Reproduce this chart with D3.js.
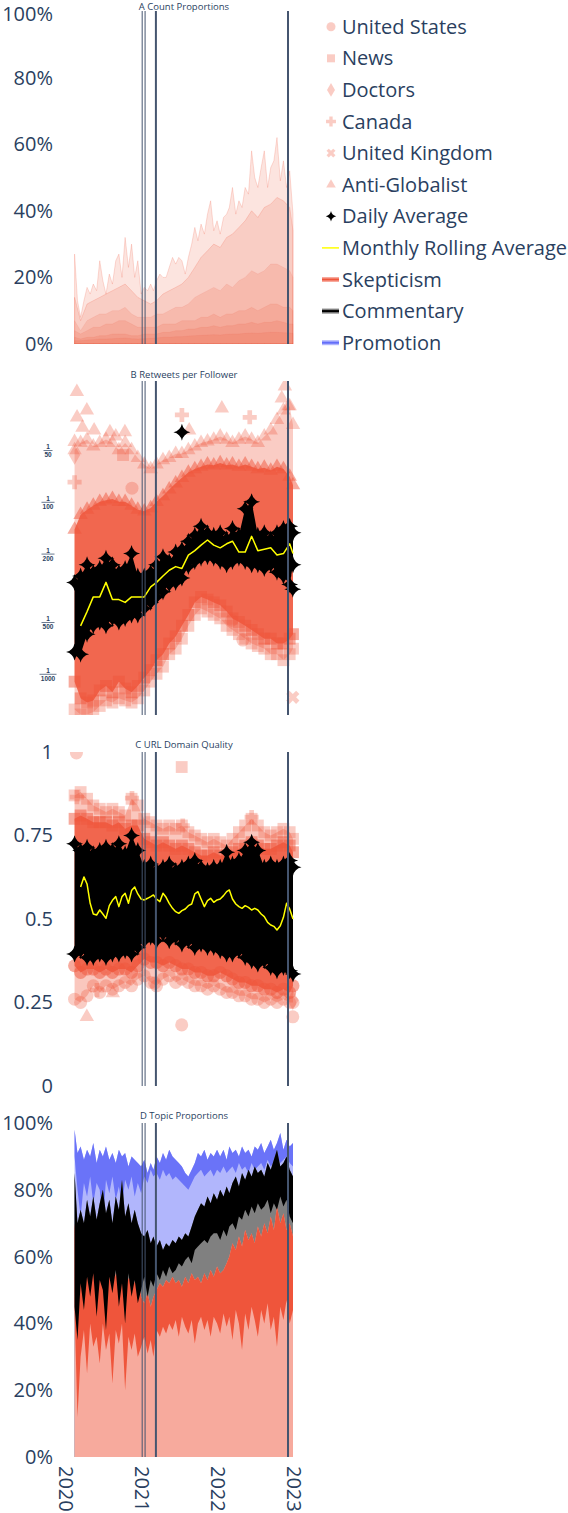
<!DOCTYPE html>
<html>
<head>
<meta charset="utf-8">
<script src="https://cdn.jsdelivr.net/npm/d3@7/dist/d3.min.js"></script>
<style>
  body { margin: 0; background: #fff; }
  #viz svg { display: block; }
</style>
</head>
<body>
<div id="viz"></div>
<script>
var FONT = '"Open Sans", "DejaVu Sans", sans-serif';
var INK = '#2a3f5f';

// time grids: half-month steps from mid Feb 2020 to 1 Jan 2023, and the monthly subset
var semiDates = d3.range(70).map(function(i) {
  return i % 2 === 0 ? new Date(2020, 1 + i / 2, 16) : new Date(2020, 2 + (i - 1) / 2, 1);
});
var monthDates = semiDates.filter(function(d, i) { return i % 2 === 0; }).concat([semiDates[69]]);

var eventDates = ['2021-01-06', '2021-01-20', '2021-03-13', '2022-12-08'];
var yearTicks = [2020, 2021, 2022, 2023];
var pctTicks = [0, 20, 40, 60, 80, 100];
var bTickDenoms = [50, 100, 200, 500, 1000];
var cTicks = [0, 0.25, 0.5, 0.75, 1];
var categories = ['United States', 'News', 'Doctors', 'Canada', 'United Kingdom', 'Anti-Globalist'];
var topics = ['Skepticism', 'Commentary', 'Promotion'];
var panelTitles = ['A Count Proportions', 'B Retweets per Follower', 'C URL Domain Quality', 'D Topic Proportions'];

// ---- A: count proportions (%) ----
var aUS = [27,13,8,13,17,15,18,16,25,19, 15,21,18,25,27,20,32,23,30,20,
           25,15,17,16,18,16,19,21,20,20, 23,26,24,26,25,21,26,30,35,31,
           36,33,39,43,34,37,33,38,39,41, 47,39,43,41,47,45,58,50,47,53,
           58,47,53,55,62,49,55,47,52,39];
var aNews = [14,7,12,13,14,15,16,17,18,16, 14,13,12,13,15,16,17,18,20,23,
             26,28,30,29,32,33,35,37,40,38, 41,42,44,43,41,34];
var aDoctors = [7,4,7,8,9,9,10,10,11,9, 8,8,8,9,9,10,11,11,12,14,
                15,16,17,16,18,17,19,20,22,21, 22,24,24,23,22,20];
var aCanada = [2,1.5,2,2,2.5,2.5,3,3,3,2.5, 2.5,3,3,3,3.5,3.5,4,4,4.5,4.5,
               5,5,5.5,5,5.5,5.5,6,6,6.5,6, 6.5,6.5,7,6.5,6,6];
var aUK = [1,1,1.2,1.3,1.5,1.5,1.6,1.7,1.8,1.6, 1.5,1.6,1.7,1.8,2,2,2.2,2.2,2.4,2.5,
           2.6,2.7,2.8,2.7,2.9,3,3,3.2,3.3,3.2, 3.4,3.5,3.5,3.4,3.3,3.2];
var aAntiGlobalist = [4,3,4,5,5,6,6,7,7,6, 5,5,5,5,6,6,6,7,7,7,
                      8,8,9,8,9,9,10,10,11,10, 11,12,12,11,11,10];

// ---- B: retweets per follower (monthly envelopes of the scatter) ----
var bOuterHi = [0.020,0.022,0.023,0.021,0.022,0.023,0.022,0.020,0.022,0.020,
                0.018,0.0165,0.0155,0.0165,0.0175,0.018,0.019,0.019,0.020,0.021,
                0.022,0.0225,0.023,0.024,0.023,0.022,0.023,0.024,0.023,0.022,
                0.024,0.026,0.030,0.034,0.036,0.028];
var bCoreHi = [0.0069,0.0084,0.0090,0.0095,0.0100,0.0102,0.0104,0.0100,0.0100,0.0095,
               0.0090,0.0088,0.0092,0.0100,0.0108,0.0118,0.0128,0.0138,0.0148,0.0155,
               0.0160,0.0165,0.0163,0.0168,0.0163,0.0165,0.0160,0.0165,0.0160,0.0155,
               0.0158,0.0152,0.0160,0.0155,0.0140,0.0125];
var bCoreLo = [0.0009,0.00072,0.00068,0.0007,0.0008,0.00085,0.00078,0.0009,0.00082,0.00078,
               0.00085,0.00095,0.00105,0.0012,0.0013,0.0015,0.00165,0.0019,0.0022,0.0026,
               0.0028,0.0027,0.0026,0.0025,0.0023,0.0021,0.002,0.0019,0.0018,0.0017,
               0.0016,0.0016,0.0015,0.0015,0.0016,0.0017];
var bOuterLo = [0.00062,0.00058,0.00058,0.0006,0.00065,0.0007,0.00068,0.00072,0.0007,0.00068,
                0.00072,0.0008,0.0009,0.001,0.0011,0.0013,0.0014,0.0016,0.0019,0.0022,
                0.0024,0.0023,0.0022,0.0021,0.0019,0.0018,0.0017,0.0016,0.0015,0.00145,
                0.0014,0.0013,0.0013,0.0012,0.0013,0.0014];
var bDailyHi = [0.0034,0.0037,0.0043,0.0039,0.0041,0.0047,0.0043,0.0039,0.0041,0.0050,
                0.0037,0.0037,0.0039,0.0043,0.0048,0.0045,0.0051,0.0053,0.0059,0.0064,
                0.0072,0.0066,0.0064,0.0066,0.0061,0.0070,0.0064,0.0091,0.0100,0.0064,
                0.0066,0.0061,0.0066,0.0070,0.0072,0.0066];
var bDailyLo = [0.00134,0.0013,0.0017,0.0019,0.0020,0.0019,0.0021,0.0020,0.0021,0.0022,
                0.0022,0.0024,0.0026,0.0028,0.0030,0.0033,0.0034,0.0036,0.0042,0.0045,
                0.0047,0.0048,0.0047,0.0045,0.0043,0.0045,0.0047,0.0045,0.0043,0.0043,
                0.0041,0.0043,0.0039,0.0037,0.0033,0.0043];
var bRolling = [null,0.0019,0.0023,0.0028,0.0028,0.0034,0.0027,0.0027,0.0026,0.0028,
                0.0028,0.0028,0.0032,0.0034,0.0037,0.0040,0.0042,0.0041,0.0049,0.0052,
                0.0056,0.0060,0.0056,0.0054,0.0057,0.0059,0.0051,0.0051,0.0063,0.0052,
                0.0053,0.0054,0.0049,0.0050,0.0057,0.0050];
var bOutCat = ['Anti-Globalist','Anti-Globalist','Anti-Globalist','Anti-Globalist','Anti-Globalist','Anti-Globalist',
               'News','Doctors','Canada','United States','Canada','Anti-Globalist','Canada',
               'Anti-Globalist','Anti-Globalist','Anti-Globalist','United States','United States','United Kingdom',
               'Anti-Globalist','Anti-Globalist','Anti-Globalist','Anti-Globalist'];
var bOutDate = ['2020-02-27','2020-04-15','2020-02-28','2020-02-16','2020-08-04','2020-10-15',
                '2020-10-06','2020-02-16','2020-02-16','2020-11-18','2021-07-16','2022-01-24','2022-06-07',
                '2022-11-23','2022-11-08','2022-12-10','2022-03-13','2022-05-05','2022-12-31',
                '2020-03-25','2020-05-20','2020-09-01','2021-08-20'];
var bOutVal = [0.0436,0.034,0.031,0.0223,0.0254,0.0254,
               0.0187,0.0187,0.013,0.012,0.032,0.035,0.031,
               0.047,0.040,0.036,0.00205,0.00157,0.00073,
               0.027,0.026,0.024,0.026];
var bStarDate = ['2021-07-16', '2022-12-31'];
var bStarVal = [0.0254, 0.0031];

// ---- C: URL domain quality ----
var cOuterHi = [0.87,0.88,0.86,0.84,0.83,0.82,0.83,0.82,0.81,0.86,
                0.84,0.80,0.79,0.78,0.77,0.78,0.77,0.78,0.76,0.75,
                0.74,0.73,0.74,0.73,0.72,0.74,0.76,0.78,0.80,0.78,
                0.76,0.75,0.76,0.77,0.76,0.74];
var cCoreHi = [0.80,0.81,0.80,0.79,0.79,0.79,0.78,0.79,0.77,0.78,
               0.78,0.74,0.73,0.72,0.73,0.72,0.71,0.72,0.71,0.70,
               0.69,0.69,0.70,0.69,0.69,0.70,0.71,0.72,0.73,0.72,
               0.71,0.71,0.72,0.73,0.72,0.70];
var cCoreLo = [0.36,0.34,0.35,0.35,0.34,0.35,0.34,0.35,0.35,0.34,
               0.36,0.38,0.37,0.37,0.36,0.37,0.36,0.35,0.35,0.34,
               0.34,0.33,0.33,0.34,0.33,0.32,0.31,0.31,0.30,0.30,
               0.29,0.29,0.28,0.29,0.28,0.30];
var cOuterLo = [0.26,0.25,0.27,0.30,0.28,0.30,0.29,0.30,0.31,0.30,
                0.32,0.33,0.31,0.30,0.32,0.33,0.31,0.32,0.31,0.30,
                0.30,0.29,0.30,0.29,0.28,0.28,0.27,0.27,0.26,0.26,
                0.25,0.26,0.25,0.26,0.25,0.25];
var cDailyHi = [0.725,0.705,0.715,0.695,0.705,0.715,0.705,0.725,0.695,0.75,
                0.705,0.655,0.665,0.645,0.655,0.665,0.645,0.655,0.665,0.675,
                0.655,0.645,0.655,0.655,0.70,0.665,0.675,0.705,0.73,0.705,
                0.655,0.665,0.655,0.665,0.675,0.655];
var cDailyLo = [0.395,0.405,0.385,0.385,0.395,0.385,0.395,0.395,0.405,0.395,
                0.415,0.435,0.445,0.435,0.455,0.435,0.445,0.425,0.435,0.415,
                0.425,0.415,0.415,0.405,0.395,0.395,0.405,0.385,0.375,0.365,
                0.375,0.355,0.345,0.355,0.345,0.335];
var cRolling = [null,null,0.596,0.626,0.605,0.547,0.515,0.512,0.527,0.515,
                0.502,0.540,0.556,0.567,0.537,0.567,0.577,0.547,0.585,0.596,
                0.575,0.560,0.557,0.562,0.567,0.572,0.560,0.552,0.577,0.565,
                0.547,0.532,0.522,0.517,0.525,0.530,0.540,0.545,0.575,0.582,
                0.560,0.537,0.555,0.562,0.550,0.557,0.560,0.570,0.582,0.587,
                0.560,0.545,0.537,0.532,0.540,0.535,0.527,0.532,0.527,0.515,
                0.507,0.490,0.482,0.478,0.467,0.480,0.505,0.547,0.530,0.500];
var cOutCat = ['United States','News','Canada','Canada','Canada','Canada','Anti-Globalist','Canada',
               'Anti-Globalist','United States','United States','Doctors','United States'];
var cOutDate = ['2020-02-25','2021-07-15','2021-07-20','2022-06-16','2020-02-27','2020-11-18','2020-04-15','2020-06-03',
                '2020-08-18','2021-07-15','2022-12-31','2022-12-31','2021-03-07'];
var cOutVal = [0.997,0.955,0.78,0.805,0.865,0.862,0.207,0.287,
               0.278,0.183,0.207,0.257,0.308];

// ---- D: topic proportions, cumulative % (low / high reach of each noisy daily line) ----
var skepLow = [44,12,30,38,25,40,33,36,28,40, 32,37,22,38,34,40,20,36,32,37,
               30,33,36,31,35,30,38,36,39,37, 40,38,41,36,42,39,37,41,34,40,
               42,38,41,36,42,40,37,43,39,42, 35,44,40,32,43,38,45,41,36,44,
               40,46,38,42,33,45,41,47,40,44];
var skepHigh = [70,58,60,56,59,55,58,57,60,55, 58,56,59,54,57,55,58,53,56,52,
                54,48,46,49,45,48,50,52,51,53, 52,54,52,53,51,54,52,55,53,54,
                52,55,53,56,54,57,55,56,58,60, 64,62,66,63,68,65,67,64,69,66,
                70,67,72,68,75,70,73,68,70,66];
var commLow = [45,35,52,44,54,48,55,42,53,50, 38,54,49,56,45,52,40,55,48,53,
               46,50,54,48,53,51,55,53,56,54, 57,55,56,58,57,59,60,58,62,63,
               64,65,64,66,67,67,65,68,66,69, 70,68,72,71,74,72,75,73,76,74,
               75,77,73,76,74,78,75,77,72,70];
var commHigh = [85,70,74,70,77,72,78,71,76,80, 73,77,70,78,74,83,72,76,70,74,
                70,67,66,68,64,66,63,65,62,64, 63,65,64,66,65,67,66,69,72,74,
                76,75,78,76,79,77,80,78,81,79, 82,84,81,85,83,86,84,87,85,86,
                84,88,86,89,92,87,88,90,86,84];
var promLow = [90,80,72,82,78,84,76,82,80,70, 83,79,84,77,81,75,83,80,84,78,
               82,79,84,82,86,84,85,83,86,84, 85,83,84,83,82,81,80,82,84,85,
               86,84,85,86,84,86,85,87,85,86, 87,85,88,86,87,85,88,86,87,88,
               86,89,87,88,90,88,89,90,88,87];
var promHigh = [98,91,93,89,92,90,94,88,92,90, 93,89,91,88,92,90,91,87,90,89,
                88,87,89,85,88,86,90,88,91,89, 92,90,89,88,87,85,84,86,88,91,
                90,92,89,91,90,92,90,92,89,93, 91,92,90,93,91,92,90,93,92,94,
                91,93,95,92,94,97,92,95,93,94];

// ---------------------------------------------------------------------
var svg = d3.select('#viz').append('svg')
  .attr('width', 568).attr('height', 1513)
  .style('font-family', FONT);

var x = d3.scaleTime()
  .domain([new Date(2020, 0, 1), new Date(2023, 0, 1)])
  .range([65, 293]);

var yA = d3.scaleLinear().domain([0, 100]).range([344, 11]);
var yB = d3.scaleLog().domain([0.0504, 0.000576]).range([381, 715]);
var yC = d3.scaleLinear().domain([0, 1]).range([1086, 752]);
var yD = d3.scaleLinear().domain([0, 100]).range([1457, 1123]);

var salmon = '#ef553b';
var pink = 'rgba(239,85,59,0.3)';

// four point star used by plotly's "star-diamond"
var starDiamond = {
  draw: function(ctx, size) {
    var r = Math.sqrt(size) / 2, c = r * 0.18;
    ctx.moveTo(0, -r);
    ctx.quadraticCurveTo(c, -c, r, 0);
    ctx.quadraticCurveTo(c, c, 0, r);
    ctx.quadraticCurveTo(-c, c, -r, 0);
    ctx.quadraticCurveTo(-c, -c, 0, -r);
    ctx.closePath();
  }
};
var symbolXFat = {
  draw: function(ctx, size) {
    var r = Math.sqrt(size / 5) / 2;
    var pts = [[-3,-1],[-1,-1],[-1,-3],[1,-3],[1,-1],[3,-1],[3,1],[1,1],[1,3],[-1,3],[-1,1],[-3,1]];
    pts.forEach(function(p, i) {
      var px = (p[0] - p[1]) * r / Math.SQRT2, py = (p[0] + p[1]) * r / Math.SQRT2;
      if (i === 0) ctx.moveTo(px, py); else ctx.lineTo(px, py);
    });
    ctx.closePath();
  }
};
var catSymbol = {
  'United States': d3.symbolCircle,
  'News': d3.symbolSquare,
  'Doctors': d3.symbolDiamond,
  'Canada': d3.symbolCross,
  'United Kingdom': symbolXFat,
  'Anti-Globalist': d3.symbolTriangle
};
var catSize = {
  'United States': 133, 'News': 140, 'Doctors': 110, 'Canada': 110,
  'United Kingdom': 110, 'Anti-Globalist': 90
};

var defs = svg.append('defs');
function panel(id, top, bottom) {
  defs.append('clipPath').attr('id', 'clip' + id)
    .append('rect').attr('x', 0).attr('y', top).attr('width', 568).attr('height', bottom - top);
  return svg.append('g').attr('clip-path', 'url(#clip' + id + ')');
}

function band(g, dates, lo, hi, yS, fill) {
  var area = d3.area()
    .defined(function(d, i) { return hi[i] != null && (lo === null || lo[i] != null); })
    .x(function(d) { return x(d); })
    .y0(function(d, i) { return lo === null ? yS.range()[0] : yS(lo[i]); })
    .y1(function(d, i) { return yS(hi[i]); });
  return g.append('path').datum(dates).attr('d', area).attr('fill', fill);
}

function markers(g, dates, vals, yS, sym, size, fill) {
  g.append('g').selectAll('path').data(dates).enter().append('path')
    .attr('transform', function(d, i) {
      return 'translate(' + x(d instanceof Date ? d : new Date(d)) + ',' + yS(vals[i]) + ')';
    })
    .attr('d', d3.symbol().type(sym).size(size))
    .attr('fill', fill);
}

function outliers(g, cats, dates, vals, yS) {
  g.append('g').selectAll('path').data(cats).enter().append('path')
    .attr('transform', function(c, i) {
      return 'translate(' + x(new Date(dates[i])) + ',' + yS(vals[i]) + ')';
    })
    .attr('d', function(c) { return d3.symbol().type(catSymbol[c]).size(catSize[c])(); })
    .attr('fill', pink);
}

function lineOf(g, dates, vals, yS, color, width) {
  var line = d3.line()
    .defined(function(d, i) { return vals[i] != null; })
    .x(function(d) { return x(d); })
    .y(function(d, i) { return yS(vals[i]); });
  g.append('path').datum(dates).attr('d', line)
    .attr('fill', 'none').attr('stroke', color).attr('stroke-width', width)
    .attr('stroke-linejoin', 'round');
}

var eventWidth = [1, 1, 2, 2];
function events(g, top, bottom) {
  g.append('g').selectAll('line').data(eventDates).enter().append('line')
    .attr('x1', function(d) { return x(new Date(d)); })
    .attr('x2', function(d) { return x(new Date(d)); })
    .attr('y1', top).attr('y2', bottom)
    .attr('stroke', '#45556f')
    .attr('stroke-width', function(d, i) { return eventWidth[i]; });
}

// ---- panel A ----
var gA = panel('A', 11, 344);
[[semiDates, aUS], [monthDates, aNews], [monthDates, aDoctors], [monthDates, aAntiGlobalist],
 [monthDates, aCanada], [monthDates, aUK]].forEach(function(s, i) {
  band(gA, s[0], null, s[1], yA, 'rgba(239,85,59,0.16)')
    .attr('stroke', i < 2 ? 'rgba(239,85,59,0.25)' : 'rgba(239,85,59,0.12)')
    .attr('stroke-width', 0.8);
});
events(gA, 11, 344);

// ---- panel B ----
var gB = panel('B', 381, 715);
band(gB, monthDates, bOuterLo, bOuterHi, yB, 'rgba(239,85,59,0.3)');
markers(gB, monthDates, bOuterHi, yB, d3.symbolTriangle, 90, pink);
markers(gB, monthDates, bOuterLo, yB, d3.symbolSquare, 140, pink);
outliers(gB, bOutCat, bOutDate, bOutVal, yB);
band(gB, monthDates, bCoreLo, bCoreHi, yB, 'rgba(239,85,59,0.85)');
markers(gB, monthDates, bCoreHi, yB, d3.symbolTriangle, 90, 'rgba(239,85,59,0.5)');
markers(gB, monthDates, bCoreLo, yB, d3.symbolSquare, 140, 'rgba(239,85,59,0.5)');
band(gB, monthDates, bDailyLo, bDailyHi, yB, '#000');
markers(gB, monthDates, bDailyHi, yB, starDiamond, 289, '#000');
markers(gB, monthDates, bDailyLo, yB, starDiamond, 289, '#000');
markers(gB, bStarDate, bStarVal, yB, starDiamond, 289, '#000');
lineOf(gB, monthDates, bRolling, yB, '#ffff00', 1.5);
events(gB, 381, 715);

// ---- panel C ----
var gC = panel('C', 752, 1086);
band(gC, monthDates, cOuterLo, cOuterHi, yC, 'rgba(239,85,59,0.33)');
markers(gC, monthDates, cOuterHi, yC, d3.symbolSquare, 140, pink);
markers(gC, monthDates, cOuterLo, yC, d3.symbolCircle, 133, pink);
outliers(gC, cOutCat, cOutDate, cOutVal, yC);
band(gC, monthDates, cCoreLo, cCoreHi, yC, 'rgba(239,85,59,0.85)');
markers(gC, monthDates, cCoreHi, yC, d3.symbolSquare, 140, 'rgba(239,85,59,0.5)');
markers(gC, monthDates, cCoreLo, yC, d3.symbolCircle, 133, 'rgba(239,85,59,0.5)');
band(gC, monthDates, cDailyLo, cDailyHi, yC, '#000');
markers(gC, monthDates, cDailyHi, yC, starDiamond, 289, '#000');
markers(gC, monthDates, cDailyLo, yC, starDiamond, 289, '#000');
lineOf(gC, semiDates, cRolling, yC, '#ffff00', 1.5);
events(gC, 752, 1086);

// ---- panel D ----
var gD = panel('D', 1123, 1457);
band(gD, semiDates, null, promHigh, yD, '#b1b6fc');
band(gD, semiDates, promLow, promHigh, yD, '#6a73f8');
band(gD, semiDates, null, commHigh, yD, '#808080');
band(gD, semiDates, null, skepHigh, yD, '#f7aa9d');
band(gD, semiDates, skepLow, skepHigh, yD, salmon);
band(gD, semiDates, commLow, commHigh, yD, '#000');
events(gD, 1123, 1457);

// ---- axes ----
function styleAxis(g) {
  g.select('.domain').remove();
  g.attr('font-family', FONT).attr('font-size', 20);
  g.selectAll('text').attr('fill', INK);
}
function nudgeTop(g) {
  // keep the topmost label inside the page
  g.selectAll('.tick').filter(function(d) { return d === 100; }).select('text').attr('y', 3);
}
svg.append('g').attr('transform', 'translate(58,0)')
  .call(d3.axisLeft(yA).tickValues(pctTicks).tickFormat(function(d) { return d + '%'; }).tickSize(0).tickPadding(5))
  .call(styleAxis).call(nudgeTop);
svg.append('g').attr('transform', 'translate(58,0)')
  .call(d3.axisLeft(yC).tickValues(cTicks).tickFormat(function(d) { return String(d); }).tickSize(0).tickPadding(5))
  .call(styleAxis);
svg.append('g').attr('transform', 'translate(58,0)')
  .call(d3.axisLeft(yD).tickValues(pctTicks).tickFormat(function(d) { return d + '%'; }).tickSize(0).tickPadding(5))
  .call(styleAxis);

var axB = svg.append('g').attr('transform', 'translate(57,0)')
  .call(d3.axisLeft(yB).tickValues(bTickDenoms.map(function(d) { return 1 / d; }))
    .tickFormat(function() { return ''; }).tickSize(0));
axB.select('.domain').remove();
axB.selectAll('.tick').each(function(v, i) {
  var t = d3.select(this);
  var den = String(bTickDenoms[i]);
  var w = den.length * 4 + 1;
  t.append('text').attr('x', -9).attr('y', -1.5).attr('text-anchor', 'middle')
    .attr('font-size', 6.5).attr('font-weight', 'bold').attr('fill', INK).text('1');
  t.append('line').attr('x1', -9 - w / 2).attr('x2', -9 + w / 2).attr('y1', 0).attr('y2', 0)
    .attr('stroke', INK).attr('stroke-width', 0.7);
  t.append('text').attr('x', -9).attr('y', 6.5).attr('text-anchor', 'middle')
    .attr('font-size', 6.5).attr('font-weight', 'bold').attr('fill', INK).text(den);
});

var axX = svg.append('g').attr('transform', 'translate(0,1458)')
  .call(d3.axisBottom(x).tickValues(yearTicks.map(function(y) { return new Date(y, 0, 1); }))
    .tickFormat(d3.timeFormat('%Y')).tickSize(0));
axX.call(styleAxis);
axX.selectAll('text')
  .attr('transform', 'rotate(90)')
  .attr('text-anchor', 'start')
  .attr('x', 8).attr('y', 0).attr('dy', '0.35em');

// ---- subplot titles ----
var titleY = [10, 378, 748, 1119];
svg.append('g').selectAll('text').data(panelTitles).enter().append('text')
  .attr('x', 184).attr('y', function(d, i) { return titleY[i]; })
  .attr('text-anchor', 'middle').attr('font-size', 9.5).attr('fill', INK)
  .text(function(d) { return d; });

// ---- legend ----
var legendNames = categories.concat(['Daily Average', 'Monthly Rolling Average']).concat(topics);
var legend = svg.append('g');
var rows = legend.selectAll('g').data(legendNames).enter().append('g')
  .attr('transform', function(d, i) { return 'translate(0,' + (26.7 + i * 31.6) + ')'; });
rows.append('text').attr('x', 342).attr('y', 0).attr('dy', '0.35em')
  .attr('font-size', 20).attr('fill', INK).text(function(d) { return d; });
var legendSym = {
  'United States': [d3.symbolCircle, 64], 'News': [d3.symbolSquare, 64],
  'Doctors': [d3.symbolDiamond, 55], 'Canada': [d3.symbolCross, 55],
  'United Kingdom': [symbolXFat, 50], 'Anti-Globalist': [d3.symbolTriangle, 40]
};
rows.filter(function(d) { return legendSym[d]; }).append('path')
  .attr('transform', 'translate(331,0)')
  .attr('d', function(d) { return d3.symbol().type(legendSym[d][0]).size(legendSym[d][1])(); })
  .attr('fill', pink);
rows.filter(function(d) { return d === 'Daily Average'; }).append('path')
  .attr('transform', 'translate(331,0)')
  .attr('d', d3.symbol().type(starDiamond).size(110)).attr('fill', '#000');
rows.filter(function(d) { return d === 'Monthly Rolling Average'; }).append('line')
  .attr('x1', 322).attr('x2', 339).attr('y1', 0).attr('y2', 0)
  .attr('stroke', '#ffff00').attr('stroke-width', 1.5);
var topicFill = { 'Skepticism': '#f7aa9d', 'Commentary': '#808080', 'Promotion': '#b1b6fc' };
var topicLine = { 'Skepticism': salmon, 'Commentary': '#000', 'Promotion': '#636efa' };
var tRows = rows.filter(function(d) { return topicFill[d]; });
tRows.append('rect').attr('x', 322).attr('y', -2.5).attr('width', 17).attr('height', 5)
  .attr('fill', function(d) { return topicFill[d]; });
tRows.append('line').attr('x1', 322).attr('x2', 339).attr('y1', 0).attr('y2', 0)
  .attr('stroke', function(d) { return topicLine[d]; }).attr('stroke-width', 2);
</script>
</body>
</html>
